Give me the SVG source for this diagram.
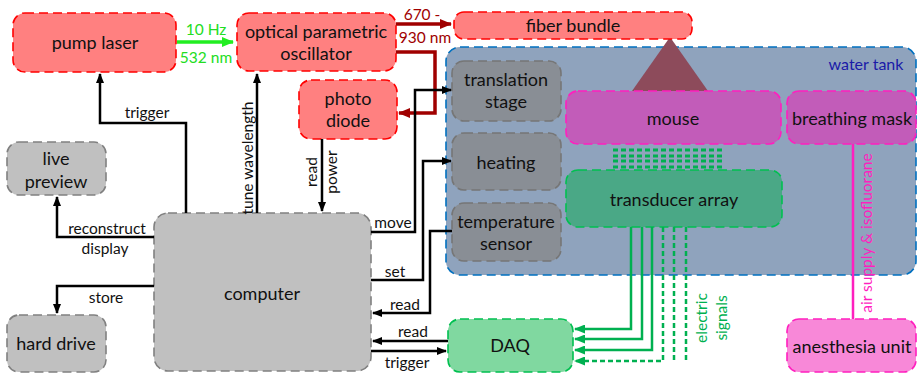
<svg xmlns="http://www.w3.org/2000/svg" width="917" height="374" viewBox="0 0 917 374">
  <style>
    text { font-family: Lato, "Open Sans", "Liberation Sans", sans-serif; text-anchor: middle; dominant-baseline: central; fill: #111; }
    .big { font-size: 18px; }
    .lbl { font-size: 15.5px; }
    .box { stroke-width: 1.6; stroke-dasharray: 9 5; }
    .red { fill: #ff8080; stroke: #ff0000; }
    .gray { fill: #c0c0c0; stroke: #808080; }
    .dgray { fill: #898e95; stroke: #767676; }
    .tank { fill: #8fa3bd; stroke: #0070c0; }
    .pink { fill: #c25cb9; stroke: #ff1fbf; }
    .trans { fill: #4aa886; stroke: #00c050; }
    .daq { fill: #80d8a0; stroke: #00c050; }
    .anes { fill: #f888d8; stroke: #ff1fbf; }
    .wire { fill: none; stroke: #000; stroke-width: 2.5; }
    .beam { fill: none; stroke: #a00000; stroke-width: 3.5; }
    .sig { fill: none; stroke: #00b050; stroke-width: 2.5; }
    .dot { stroke-dasharray: 5 3; }
  </style>
  <defs>
    <marker id="ab" markerWidth="10" markerHeight="8" refX="9" refY="4" orient="auto" markerUnits="userSpaceOnUse">
      <path d="M0,0 L10,4 L0,8 Z" fill="#000"/>
    </marker>
    <marker id="ar" markerWidth="12" markerHeight="10" refX="11" refY="5" orient="auto" markerUnits="userSpaceOnUse">
      <path d="M0,0 L12,5 L0,10 Z" fill="#a00000"/>
    </marker>
    <marker id="ag" markerWidth="12" markerHeight="10" refX="11" refY="5" orient="auto" markerUnits="userSpaceOnUse">
      <path d="M0,0 L12,5 L0,10 Z" fill="#22ee22"/>
    </marker>
    <marker id="as" markerWidth="11" markerHeight="9" refX="10" refY="4.5" orient="auto" markerUnits="userSpaceOnUse">
      <path d="M0,0 L11,4.5 L0,9 Z" fill="#00b050"/>
    </marker>
  </defs>

  <!-- water tank background -->
  <g id="water-tank">
    <rect class="box tank" x="446" y="47" width="470" height="228" rx="14"/>
    <text x="866" y="63" style="fill:#1a1aa8;font-size:16px">water tank</text>
  </g>

  <!-- light cone from fiber bundle onto the mouse -->
  <polygon points="670,37 632,91 708,91" fill="#8d4b5b"/>

  <g id="pump-laser">
    <rect class="box red" x="13" y="13" width="163" height="59" rx="12"/>
    <text class="big" x="95" y="42">pump laser</text>
  </g>
  <g id="opo">
    <rect class="box red" x="237" y="13" width="159" height="58" rx="12"/>
    <text class="big" x="316" y="31">optical parametric</text>
    <text class="big" x="316" y="53">oscillator</text>
  </g>
  <g id="fiber-bundle">
    <rect class="box red" x="454" y="12" width="238" height="27" rx="10"/>
    <text class="big" x="573" y="25">fiber bundle</text>
  </g>
  <g id="photo-diode">
    <rect class="box red" x="299" y="80" width="98" height="59" rx="12"/>
    <text class="big" x="348" y="98">photo</text>
    <text class="big" x="348" y="120">diode</text>
  </g>
  <g id="live-preview">
    <rect class="box gray" x="7" y="142" width="99" height="53" rx="12"/>
    <text class="big" x="56" y="158">live</text>
    <text class="big" x="56" y="181">preview</text>
  </g>
  <g id="hard-drive">
    <rect class="box gray" x="7" y="315" width="99" height="57" rx="12"/>
    <text class="big" x="56" y="343">hard drive</text>
  </g>
  <g id="computer">
    <rect class="box gray" x="154" y="213" width="217" height="158" rx="14"/>
    <text class="big" x="262" y="293">computer</text>
  </g>
  <g id="translation-stage">
    <rect class="box dgray" x="452" y="61" width="109" height="60" rx="12"/>
    <text class="big" x="506" y="79">translation</text>
    <text class="big" x="506" y="101">stage</text>
  </g>
  <g id="heating">
    <rect class="box dgray" x="452" y="133" width="109" height="57" rx="12"/>
    <text class="big" x="506" y="162">heating</text>
  </g>
  <g id="temperature-sensor">
    <rect class="box dgray" x="452" y="203" width="109" height="58" rx="12"/>
    <text class="big" x="506" y="221">temperature</text>
    <text class="big" x="506" y="243">sensor</text>
  </g>
  <g id="mouse">
    <rect class="box pink" x="566" y="91" width="215" height="53" rx="12"/>
    <text class="big" x="673" y="118">mouse</text>
  </g>
  <g id="breathing-mask">
    <rect class="box pink" x="787" y="91" width="129" height="53" rx="12"/>
    <text class="big" x="852" y="118">breathing mask</text>
  </g>
  <g id="transducer-array">
    <rect class="box trans" x="566" y="170" width="216" height="57" rx="12"/>
    <text class="big" x="674" y="199">transducer array</text>
  </g>
  <g id="daq">
    <rect class="box daq" x="448" y="319" width="125" height="53" rx="12"/>
    <text class="big" x="510" y="345">DAQ</text>
  </g>
  <g id="anesthesia-unit">
    <rect class="box anes" x="787" y="319" width="129" height="53" rx="12"/>
    <text class="big" x="852" y="346">anesthesia unit</text>
  </g>

  <g id="connectors">
    <!-- optical path -->
    <path class="beam" d="M177,42 H233" style="stroke:#22ee22" marker-end="url(#ag)"/>
    <text class="lbl" x="206" y="29" style="fill:#22dd22">10 Hz</text>
    <text class="lbl" x="206" y="57" style="fill:#22dd22">532 nm</text>
    <path class="beam" d="M396,24 H451" marker-end="url(#ar)"/>
    <text class="lbl" x="422" y="14" style="fill:#a00000">670 -</text>
    <text class="lbl" x="425" y="37" style="fill:#a00000">930 nm</text>
    <path class="beam" d="M396,52 H435 V113 H399" marker-end="url(#ar)"/>

    <!-- computer control lines -->
    <path class="wire" d="M186,213 V123 H100 V74" marker-end="url(#ab)"/>
    <text class="lbl" x="147" y="112">trigger</text>
    <path class="wire" d="M257,213 V74" marker-end="url(#ab)"/>
    <text class="lbl" transform="translate(247,158) rotate(-90)">tune wavelength</text>
    <path class="wire" d="M322,139 V211" marker-end="url(#ab)"/>
    <text class="lbl" transform="translate(311,172) rotate(-90)">read</text>
    <text class="lbl" transform="translate(331,172) rotate(-90)">power</text>
    <path class="wire" d="M154,237 H57 V197" marker-end="url(#ab)"/>
    <text class="lbl" x="107" y="228">reconstruct</text>
    <text class="lbl" x="105" y="248">display</text>
    <path class="wire" d="M154,286 H57 V313" marker-end="url(#ab)"/>
    <text class="lbl" x="106" y="297">store</text>
    <path class="wire" d="M371,232 H415 V90 H451" marker-end="url(#ab)"/>
    <text class="lbl" x="393" y="222">move</text>
    <path class="wire" d="M371,280 H423 V161 H451" marker-end="url(#ab)"/>
    <text class="lbl" x="395" y="271">set</text>
    <path class="wire" d="M452,231 H430 V313 H373" marker-end="url(#ab)"/>
    <text class="lbl" x="405" y="304">read</text>
    <path class="wire" d="M448,341 H373" marker-end="url(#ab)"/>
    <text class="lbl" x="413" y="331">read</text>
    <path class="wire" d="M371,351 H446" marker-end="url(#ab)"/>
    <text class="lbl" x="407" y="362">trigger</text>

    <!-- acoustic coupling between mouse and transducer -->
    <g class="sig dot" style="stroke-width:3">
      <path d="M613,150 H724"/>
      <path d="M613,156 H724"/>
      <path d="M613,161 H724"/>
      <path d="M613,167 H724"/>
    </g>

    <!-- electric signals to DAQ -->
    <path class="sig" d="M631,227 V329 H575" marker-end="url(#as)"/>
    <path class="sig" d="M642,227 V339 H575" marker-end="url(#as)"/>
    <path class="sig" d="M652,227 V350 H575" marker-end="url(#as)"/>
    <path class="sig dot" d="M663,227 V361 H575" marker-end="url(#as)"/>
    <path class="sig dot" d="M674,227 V362"/>
    <path class="sig dot" d="M686,227 V362"/>
    <text class="lbl" transform="translate(701,318) rotate(-90)" style="fill:#00b050">electric</text>
    <text class="lbl" transform="translate(721,318) rotate(-90)" style="fill:#00b050">signals</text>

    <!-- gas supply -->
    <path d="M853,144 V319" stroke="#ff1fbf" stroke-width="2.5" fill="none"/>
    <text class="lbl" transform="translate(866,233) rotate(-90)" style="fill:#ff1fbf">air supply &amp; isofluorane</text>
  </g>
</svg>
